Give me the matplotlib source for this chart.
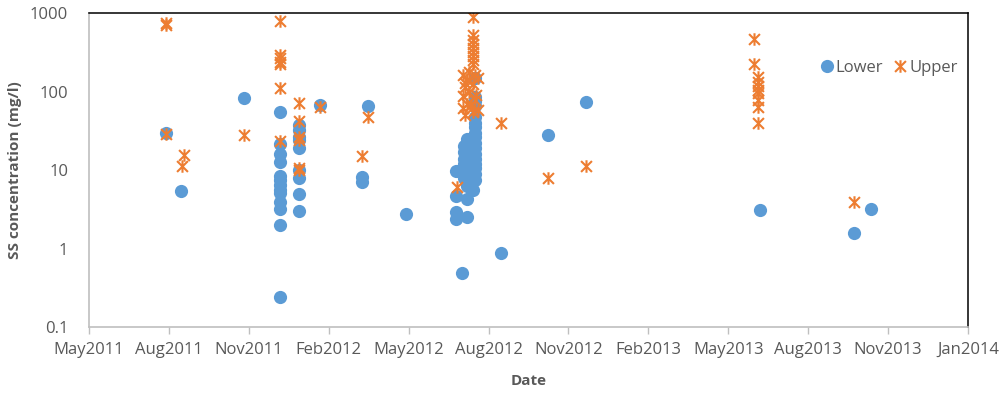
import numpy as np
import datetime
import matplotlib
matplotlib.use("Agg")
import matplotlib.pyplot as plt
import matplotlib.dates as mdates
from matplotlib.path import Path

# suspended sediment samples, lower and upper stations
lower_dates = ["2011-07-28", "2011-08-14", "2011-10-25",
	"2011-12-05", "2011-12-05", "2011-12-05", "2011-12-05", "2011-12-05", "2011-12-05", "2011-12-05",
	"2011-12-05", "2011-12-05", "2011-12-05", "2011-12-05", "2011-12-05", "2011-12-05",
	"2011-12-27", "2011-12-27", "2011-12-27", "2011-12-27", "2011-12-27", "2011-12-27", "2011-12-27",
	"2011-12-27", "2011-12-27",
	"2012-01-20", "2012-03-08", "2012-03-08", "2012-03-15", "2012-04-27",
	"2012-06-24", "2012-06-24", "2012-06-24", "2012-06-24", "2012-07-01",
	"2012-07-06", "2012-07-06", "2012-07-06", "2012-07-06", "2012-07-06", "2012-07-06", "2012-07-06",
	"2012-07-06", "2012-07-06", "2012-07-06", "2012-07-06", "2012-07-06",
	"2012-07-03", "2012-07-03", "2012-07-03", "2012-07-03", "2012-07-03", "2012-07-03",
	"2012-07-13",
	"2012-07-15", "2012-07-15", "2012-07-15", "2012-07-15", "2012-07-15", "2012-07-15", "2012-07-15",
	"2012-07-15", "2012-07-15", "2012-07-15", "2012-07-15", "2012-07-15", "2012-07-15", "2012-07-15",
	"2012-07-15", "2012-07-15", "2012-07-15",
	"2012-08-14", "2012-10-07", "2012-11-19", "2013-06-06", "2013-09-22", "2013-10-11"]
lower_ss = [30, 5.4, 83,
	55, 21.4, 16, 12.6, 8.4, 7.5, 6.4,
	5.6, 5.1, 3.9, 3.2, 2.0, 0.24,
	37, 32, 26, 24, 19, 10, 7.9,
	4.9, 3.0,
	67, 8.2, 7.1, 65, 2.75,
	9.7, 4.6, 2.9, 2.4, 0.49,
	4.3, 2.5, 25, 21, 18, 15, 13,
	11, 9.5, 8.3, 7.2, 6.3,
	20, 17, 14, 12, 10, 8,
	5.5,
	150, 85, 75, 65, 47, 40, 35,
	30, 26, 22, 19, 16, 14, 12,
	10.5, 9, 7.5,
	0.88, 27.7, 73, 3.1, 1.57, 3.16]

upper_dates = ["2011-07-28", "2011-07-28", "2011-07-28", "2011-08-18", "2011-08-15", "2011-10-25",
	"2011-12-05", "2011-12-05", "2011-12-05", "2011-12-05", "2011-12-05", "2011-12-05", "2011-12-05",
	"2011-12-27", "2011-12-27", "2011-12-27", "2011-12-27", "2011-12-27", "2011-12-27",
	"2012-01-20", "2012-03-08", "2012-03-15", "2012-06-25",
	"2012-07-13", "2012-07-13", "2012-07-13", "2012-07-13", "2012-07-13", "2012-07-13", "2012-07-13",
	"2012-07-13", "2012-07-13",
	"2012-07-09", "2012-07-02", "2012-07-15", "2012-07-19", "2012-07-06", "2012-07-13", "2012-07-04",
	"2012-07-09", "2012-07-02", "2012-07-15", "2012-07-06", "2012-07-02", "2012-07-13", "2012-07-04",
	"2012-07-19", "2012-07-11", "2012-07-17", "2012-07-04",
	"2012-08-14", "2012-10-07", "2012-11-19",
	"2013-05-30", "2013-05-30",
	"2013-06-04", "2013-06-04", "2013-06-04", "2013-06-04", "2013-06-04", "2013-06-04", "2013-06-04",
	"2013-06-04",
	"2013-09-22"]
upper_ss = [740, 700, 29, 15.6, 11.3, 28,
	780, 292, 267, 238, 224, 111, 23.6,
	71, 42, 26, 24, 10.6, 10,
	63, 15.2, 48, 6.1,
	877, 520, 450, 400, 360, 320, 280,
	250, 224,
	177, 162, 160, 148, 140, 124, 114,
	99, 88, 78, 70, 62, 55, 50,
	58, 68, 90, 130,
	40, 7.8, 11.2,
	462, 224,
	154, 132, 117, 106, 95, 79, 64,
	40,
	3.9]

tick_labels = ["May2011", "Aug2011", "Nov2011", "Feb2012", "May2012", "Aug2012",
	"Nov2012", "Feb2013", "May2013", "Aug2013", "Nov2013", "Jan2014"]
ytick_vals = [0.1, 1, 10, 100, 1000]
ytick_labels = ["0.1", "1", "10", "100", "1000"]

def todates(lst):
	return [datetime.datetime.strptime(d, '%Y-%m-%d') for d in lst]

# asterisk marker: an x with a vertical bar through it
star = Path([(-1, -1), (1, 1), (-1, 1), (1, -1), (0, -1.15), (0, 1.15)],
	[Path.MOVETO, Path.LINETO, Path.MOVETO, Path.LINETO, Path.MOVETO, Path.LINETO])

plt.rcParams['font.family'] = 'Open Sans'
grey = '#595959'

fig = plt.figure(figsize=(10.03, 3.94), dpi=100)
ax = fig.add_axes([0.0887, 0.170, 0.8764, 0.797])

ax.plot(todates(lower_dates), lower_ss, 'o', color='#5B9BD5', markersize=9.5,
	markeredgewidth=0, label='Lower')
ax.plot(todates(upper_dates), upper_ss, linestyle='none', marker=star, markersize=9,
	markerfacecolor='none', markeredgecolor='#ED7D31', markeredgewidth=1.5, label='Upper')

ax.set_yscale('log')
ax.set_ylim(0.1, 1000)
ax.set_yticks(ytick_vals)
ax.set_yticklabels(ytick_labels)
ax.yaxis.set_minor_locator(matplotlib.ticker.NullLocator())

x0 = mdates.date2num(datetime.datetime(2011, 5, 1))
x1 = x0 + 1005
ax.set_xlim(x0, x1)
ax.set_xticks(np.linspace(x0, x1, len(tick_labels)))
ax.set_xticklabels(tick_labels)

for s in ['top', 'right']:
	ax.spines[s].set_color('black')
	ax.spines[s].set_linewidth(1.1)
for s in ['left', 'bottom']:
	ax.spines[s].set_color('#BFBFBF')
	ax.spines[s].set_linewidth(1.2)

ax.tick_params(axis='x', colors='#BFBFBF', labelcolor=grey, length=5, width=1, labelsize=12, pad=6)
ax.tick_params(axis='y', length=0, labelcolor=grey, labelsize=12, pad=15)

ax.set_xlabel('Date', fontsize=11, fontweight='bold', color=grey, labelpad=11)
ax.set_ylabel('SS concentration (mg/l)', fontsize=11, fontweight='bold', color=grey, labelpad=6)

ax.legend(loc='upper left', bbox_to_anchor=(0.822, 0.872), ncol=2, frameon=False,
	handletextpad=0.05, columnspacing=0.5, handlelength=1.0, fontsize=12, labelcolor=grey,
	borderaxespad=0)

fig.savefig('out.png', dpi=100)
